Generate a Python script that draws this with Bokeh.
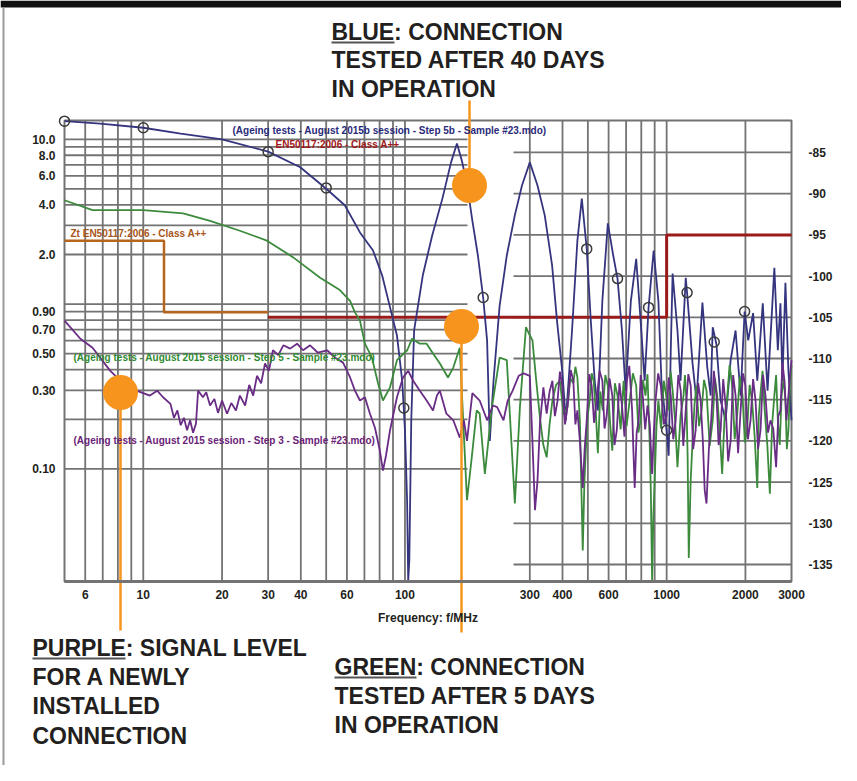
import math
from bokeh.plotting import figure
from bokeh.models import Range1d, LinearAxis, LogAxis, FixedTicker, Label, BasicTickFormatter
from bokeh.embed import file_html
from bokeh.resources import INLINE

# ---------------- data (frequency in MHz, level in dB) ----------------
blue_freq = [5.0, 6.85, 10, 13.9, 20, 30, 39.8, 50, 58.9, 67.3, 75.5, 81.8, 87.7, 93.2, 97.6, 100.0,
             101.9, 102.9, 103.9, 105.7, 108.4, 117, 127, 139, 150, 158, 165, 172.6, 181, 190, 199,
             206, 211, 218, 230, 245, 263, 280, 300, 321, 342, 365, 381, 399, 412, 435, 456, 474,
             495, 513, 531, 546, 568, 596, 625, 649, 675, 697, 730, 765, 800, 824, 853, 892, 930,
             955, 1000, 1018, 1037, 1054, 1100, 1130, 1183, 1197, 1256, 1300, 1370, 1430, 1473,
             1500, 1550, 1608, 1680, 1756, 1834, 1917, 1986, 2050, 2140, 2220, 2330, 2430, 2580,
             2660, 2722, 2770, 2844, 2920, 3000]
blue_level = [-81.2, -81.5, -82.0, -82.7, -83.4, -84.9, -86.8, -89.4, -91.4, -94.7, -96.9, -99.9,
              -103.8, -107.2, -112.7, -118.7, -127.2, -137.0, -134.5, -117.5, -106.6, -99.9, -95.1,
              -90.6, -86.2, -83.9, -86.0, -88.8, -93.3, -97.5, -102.6, -107.8, -120.0, -112.7,
              -103.6, -97.5, -92.6, -89.0, -86.2, -89.0, -92.6, -98.7, -105.4, -111.5, -117.5,
              -106.6, -95.7, -90.6, -96.7, -105.4, -112.7, -116.3, -103.0, -93.6, -97.5, -100.3,
              -106.6, -113.9, -103.0, -97.9, -106.6, -112.7, -103.8, -96.9, -103.0, -112.7, -118.7,
              -121.8, -109.0, -99.7, -106.6, -112.7, -100.2, -102.0, -110.6, -115.1, -103.2, -111.1,
              -114.5, -106.2, -108.3, -115.1, -117.5, -110.2, -106.6, -114.5, -104.3, -107.8,
              -104.5, -112.7, -103.3, -113.9, -99.0, -109.0, -103.3, -112.7, -100.8, -111.5, -117.5]
blue_mark_freq = [5.0, 10, 30, 50, 99, 199, 495, 649, 853, 1000, 1197, 1520, 1986]
blue_mark_level = [-81.2, -82.0, -84.9, -89.3, -116.0, -102.6, -96.7, -100.3, -103.8, -118.7,
                   -102.0, -108.0, -104.3]

green_freq = [5.0, 6.4, 10, 14.2, 18.0, 23.4, 29.7, 37.3, 47.4, 56.4, 61.7, 64.4, 67.3, 70.3, 74.8,
              78.9, 82.4, 87.7, 93.2, 102, 106.5, 114, 121, 128, 136, 146, 153, 162, 166, 172.6,
              180, 188, 193, 202, 215, 230, 245, 263, 275,
              290, 298, 307, 317, 328, 338, 348, 357, 366, 378, 391, 404, 418, 428, 440, 448, 456,
              466, 478, 485, 491, 499, 508, 517, 526, 536, 546, 558, 570, 583, 596, 608, 620, 634,
              649, 667, 685, 703, 722, 743, 765, 780, 795, 812, 830, 845, 861, 870, 880, 890, 900,
              915, 930, 952, 975, 996, 1018, 1036, 1054, 1077, 1100, 1130, 1160, 1175, 1190, 1203,
              1215, 1235, 1256, 1278, 1300, 1330, 1360, 1390, 1420, 1460, 1500, 1530, 1560, 1595,
              1630, 1665, 1700, 1740, 1780, 1820, 1860, 1905, 1950, 1990, 2030, 2075, 2120, 2170,
              2220, 2250, 2280, 2325, 2370, 2425, 2480, 2530, 2580, 2620, 2660, 2705, 2750, 2800,
              2844, 2880, 2920, 2960, 3000]
green_level = [-90.8, -92.0, -92.0, -92.4, -93.3, -94.5, -95.7, -97.7, -100.2, -101.7, -103.0,
               -104.4, -105.4, -108.2, -109.9, -113.0, -115.1, -113.5, -110.2, -109.0, -107.6,
               -108.2, -108.2, -109.4, -110.6, -112.3, -111.1, -108.7, -115.9, -127.2, -122.0,
               -116.3, -116.7, -124.0, -115.9, -109.9, -110.2, -127.6, -115.9,
               -106.2, -107.0, -107.8, -112.5, -117.2, -120.5, -122.0, -118.0, -115.1, -113.2,
               -112.7, -116.8, -115.9, -112.4, -113.0, -111.0, -112.3, -117.5, -133.3, -125.0,
               -121.2, -117.0, -115.1, -111.8, -112.7, -116.5, -121.5, -114.0, -116.3, -112.0,
               -113.3, -117.8, -121.2, -113.0, -114.5, -118.6, -112.7, -118.2, -115.1, -111.8,
               -113.3, -119.0, -117.5, -112.6, -114.5, -111.9, -120.0, -126.0, -137.0, -129.0,
               -124.8, -118.0, -115.1, -118.5, -112.7, -114.5, -116.3, -111.6, -113.9, -117.5,
               -123.2, -117.0, -114.5, -112.0, -115.1, -122.0, -134.2, -125.0, -120.0, -115.6,
               -113.3, -118.2, -116.3, -112.6, -113.9, -120.6, -117.5, -112.4, -114.5, -118.8,
               -124.0, -117.0, -115.1, -110.8, -113.3, -119.8, -116.9, -112.2, -114.5, -120.2,
               -118.7, -113.2, -115.1, -119.5, -125.7, -117.0, -114.5, -111.5, -116.3, -120.5,
               -126.4, -118.0, -114.5, -112.0, -117.5, -120.5, -114.5, -112.4, -115.1, -121.0,
               -118.7, -113.0, -110.8]

purple_freq = [5.0, 5.75, 6.4, 7.48, 8.7, 10, 10.6, 11.3, 11.9, 12.7, 13.1, 13.5, 13.9, 14.3, 14.7,
               15.1, 15.5, 15.9, 16.2, 16.9, 17.4, 18.0, 18.7, 19.3, 20, 20.9, 21.7, 22.6, 23.4,
               24.5, 25.4, 26.3, 27.2, 28.2, 29.2, 30.2, 31.3, 32.8, 34.3, 36.4, 38.7, 40.8, 43.4,
               46.5, 50.4, 54.1, 58, 61.7, 64.4, 67.3, 70.3, 73.5, 76.8, 80.2, 82.4, 84.6, 87.7,
               93.2, 98.3, 102.9, 107.5, 114, 121, 128, 132.5, 136, 144, 153, 162, 168, 172.6, 181,
               193, 206, 217, 225, 238, 247, 258, 272, 284,
               300, 307, 314, 321, 328, 338, 348, 357, 366, 374, 383, 391, 399, 409, 419, 430, 440,
               448, 456, 466, 478, 486, 495, 506, 517, 528, 540, 554, 568, 579, 590, 605, 620, 632,
               645, 660, 675, 690, 705, 720, 738, 746, 755, 768, 782, 796, 810, 828, 845, 862, 880,
               893, 907, 928, 950, 975, 1000, 1018, 1037, 1060, 1083, 1108, 1132, 1158, 1183, 1210,
               1236, 1263, 1291, 1320, 1349, 1375, 1398, 1420, 1450, 1480, 1515, 1550, 1580, 1608,
               1645, 1680, 1718, 1756, 1795, 1834, 1875, 1917, 1958, 2000, 2045, 2092, 2140, 2186,
               2235, 2284, 2335, 2386, 2440, 2493, 2555, 2620, 2670, 2722, 2770, 2820, 2870, 2920,
               2960, 3000]
purple_level = [-105.4, -107.6, -108.7, -111.5, -113.5, -114.2, -114.5, -113.9, -114.7, -115.5,
                -117.2, -116.3, -118.1, -117.2, -118.7, -117.5, -119.0, -117.9, -113.9, -114.7,
                -114.1, -115.7, -114.9, -116.6, -115.1, -116.7, -115.4, -116.3, -114.5, -115.7,
                -113.2, -114.5, -112.1, -113.0, -110.6, -111.5, -109.0, -109.6, -108.4, -108.8,
                -108.2, -109.0, -108.4, -109.3, -109.0, -109.9, -110.5, -112.3, -113.9, -115.1,
                -114.7, -116.7, -118.4, -121.2, -123.6, -121.8, -118.7, -114.7, -112.3, -111.5,
                -112.7, -113.9, -115.1, -116.3, -114.5, -113.9, -116.7, -117.5, -119.6, -117.5,
                -120.0, -114.2, -115.1, -117.5, -115.7, -115.9, -117.5, -115.1, -113.9, -112.1,
                -111.8,
                -112.1, -120.0, -128.4, -124.8, -117.9, -113.5, -116.7, -114.0, -112.7, -117.0,
                -115.1, -111.6, -113.3, -118.0, -115.5, -111.4, -112.7, -118.0, -116.3, -120.0,
                -125.7, -121.0, -117.5, -111.9, -113.3, -117.8, -115.1, -111.5, -112.7, -118.5,
                -116.9, -112.4, -114.5, -120.5, -118.7, -113.0, -115.7, -119.5, -112.7, -110.9,
                -116.3, -121.0, -125.7, -119.0, -117.5, -112.0, -114.5, -118.6, -115.7, -118.0,
                -124.0, -119.0, -115.1, -111.8, -113.3, -118.0, -116.9, -112.3, -114.5, -119.8,
                -117.5, -112.0, -113.9, -120.6, -116.3, -111.9, -113.3, -121.0, -118.7, -113.0,
                -115.1, -120.0, -126.0, -127.6, -121.0, -117.5, -111.5, -114.5, -120.5, -118.7,
                -112.5, -115.7, -122.5, -120.0, -112.0, -114.5, -121.5, -116.3, -111.8, -113.3,
                -119.8, -117.5, -112.5, -115.1, -121.0, -118.7, -112.0, -114.5, -119.0, -117.5,
                -118.5, -123.2, -117.0, -116.3, -110.5, -112.7, -117.5, -114.5, -112.0, -110.2]

limit_zt_freq = [5, 12, 12, 30]
limit_zt_level = [-95.7, -95.7, -104.4, -104.4]
limit_en_freq = [30, 1000, 1000, 3000]
limit_en_level = [-105.0, -105.0, -95.0, -95.0]

x_ticks = [6, 10, 20, 30, 40, 60, 100, 300, 400, 600, 1000, 2000, 3000]
x_tick_labels = ["6", "10", "20", "30", "40", "60", "100", "300", "400", "600", "1000", "2000", "3000"]
x_grid = [6, 7, 8, 9, 10, 20, 30, 40, 50, 60, 70, 80, 90, 100, 300, 400, 500, 600, 700, 800, 900,
          1000, 2000]
right_ticks = [-85, -90, -95, -100, -105, -110, -115, -120, -125, -130, -135]
right_labels = ["-85", "-90", "-95", "-100", "-105", "-110", "-115", "-120", "-125", "-130", "-135"]
left_values = [10.0, 8.0, 6.0, 4.0, 2.0, 0.90, 0.70, 0.50, 0.30, 0.10]
left_labels = ["10.0", "8.0", "6.0", "4.0", "2.0", "0.90", "0.70", "0.50", "0.30", "0.10"]
left_grid_values = [10, 9, 8, 7, 6, 5, 4, 3, 2, 1, 0.9, 0.8, 0.7, 0.6, 0.5, 0.4, 0.3, 0.2, 0.1]
LEFT_REF_DB = -103.4   # right-axis level that corresponds to 1.0 on the left scale

# ---------------- layout (canvas pixels) ----------------
W, H = 841, 765
FL, FR, FT, FB = 64, 791, 120, 581          # chart area inside the canvas
X0, X1 = 5.0, 3000.0
Y0, Y1 = -137.06, -81.12
DPP = (math.log10(X1) - math.log10(X0)) / (FR - FL)
YPP = (Y1 - Y0) / (FB - FT)


def fx(px):
    return 10 ** (math.log10(X0) + (px - FL) * DPP)


def fy(py):
    return Y0 + (FB - py) * YPP


BLUE = "#35357f"
GREEN = "#3c8a3c"
PURPLE = "#6a2d86"
ORANGE = "#f7941d"
GRID = "#737373"
TXT = "#231f20"
NARROW = "'Liberation Sans Narrow', 'Liberation Sans', sans-serif"
HEAD = "Liberation Sans"

p = figure(width=W, height=H, x_axis_type="log", x_range=Range1d(fx(0), fx(W)),
           y_range=Range1d(fy(H), fy(0)), x_axis_location=None, y_axis_location=None,
           output_backend="svg", toolbar_location=None, min_border=0,
           background_fill_color="white", border_fill_color="white")
p.outline_line_color = None
p.grid.visible = False

# page frame decorations
p.quad(left=fx(0), right=fx(W), top=fy(0), bottom=fy(7), fill_color="#111111", line_color=None)
p.segment(x0=[fx(3)], x1=[fx(3)], y0=[fy(7)], y1=[fy(H)], line_color="#9a9a9a", line_width=2)

# grids
n = len(x_grid)
p.segment(x0=x_grid, x1=x_grid, y0=[Y0] * n, y1=[Y1] * n, line_color=GRID, line_width=1.8)
left_grid_db = [LEFT_REF_DB + 20 * math.log10(v) for v in left_grid_values]
p.segment(x0=[X0] * len(left_grid_db), x1=[fx(467)] * len(left_grid_db), y0=left_grid_db,
          y1=left_grid_db, line_color=GRID, line_width=1.8)
p.segment(x0=[fx(513)] * len(right_ticks), x1=[X1] * len(right_ticks), y0=right_ticks,
          y1=right_ticks, line_color=GRID, line_width=1.8)
p.quad(left=X0, right=X1, bottom=Y0, top=Y1, fill_color=None, line_color=GRID, line_width=2)

# axes (pinned to the chart box)
xa = LogAxis(fixed_location=Y0, bounds=(X0, X1), ticker=FixedTicker(ticks=x_ticks),
             formatter=BasicTickFormatter(use_scientific=False),
             major_label_overrides=dict(zip(x_ticks, x_tick_labels)))
xa.axis_line_color = GRID
xa.axis_line_width = 3
xa.major_tick_line_color = None
xa.minor_tick_line_color = None
xa.major_label_standoff = 2
xa.major_label_text_font = NARROW
xa.major_label_text_font_style = "bold"
xa.major_label_text_font_size = "12px"
xa.major_label_text_color = TXT
xa.axis_label = "Frequency: f/MHz"
xa.axis_label_text_font = NARROW
xa.axis_label_text_font_style = "bold"
xa.axis_label_text_font_size = "12px"
xa.axis_label_text_color = TXT
xa.axis_label_standoff = 9
p.add_layout(xa, "below")

left_ticks = [LEFT_REF_DB + 20 * math.log10(v) for v in left_values]
la = LinearAxis(fixed_location=X0, bounds=(Y0, Y1), ticker=FixedTicker(ticks=left_ticks),
                major_label_overrides=dict(zip(left_ticks, left_labels)))
ra = LinearAxis(fixed_location=X1, bounds=(Y0, Y1), ticker=FixedTicker(ticks=right_ticks),
                major_label_overrides=dict(zip(right_ticks, right_labels)))
for ax, so in ((la, 3), (ra, 11)):
    ax.axis_line_color = None
    ax.major_tick_line_color = None
    ax.minor_tick_line_color = None
    ax.major_label_standoff = so
    ax.major_label_text_font = NARROW
    ax.major_label_text_font_style = "bold"
    ax.major_label_text_font_size = "12px"
    ax.major_label_text_color = TXT
p.add_layout(la, "left")
p.add_layout(ra, "right")

# limit lines
p.line(limit_zt_freq, limit_zt_level, line_color="#b5651d", line_width=2.5)
p.line(limit_en_freq, limit_en_level, line_color="#9b1b1b", line_width=3)

# measurement curves
p.line(blue_freq, blue_level, line_color=BLUE, line_width=1.8)
p.line(green_freq, green_level, line_color=GREEN, line_width=1.8)
p.line(purple_freq, purple_level, line_color=PURPLE, line_width=1.8)
p.scatter(blue_mark_freq, blue_mark_level, marker="circle", size=10, fill_color=None,
          line_color="#3a3a3a", line_width=1.5)

# in-chart labels
inner = [
    (232, 130, "(Ageing tests - August 2015b session - Step 5b - Sample #23.mdo)", "#2a2a7a"),
    (275, 144, "EN50117:2006 - Class A++", "#a01818"),
    (70, 233, "Zt EN50117:2006 - Class A++", "#a8561a"),
    (73, 357, "(Ageing tests - August 2015 session - Step 5 - Sample #23.mdo)", "#2f8a2f"),
    (73, 440, "(Ageing tests - August 2015 session - Step 3 - Sample #23.mdo)", "#6a2277"),
]
for x, y, t, c in inner:
    p.add_layout(Label(x=fx(x), y=fy(y), text=t, text_color=c, text_font=NARROW,
                       text_font_size="10px", text_font_style="bold", text_baseline="middle"))

# orange call-outs: pointer lines then dots
pointers = [(469, 100, 185), (461, 326, 632), (120, 392, 630)]
p.segment(x0=[fx(a) for a, _, _ in pointers], x1=[fx(a) for a, _, _ in pointers],
          y0=[fy(b) for _, b, _ in pointers], y1=[fy(c) for _, _, c in pointers],
          line_color=ORANGE, line_width=2.5)
p.scatter([fx(a) for a, _, _ in pointers], [fy(b) if b > 300 else fy(c) for a, b, c in pointers],
          marker="circle", size=35, fill_color=ORANGE, line_color=None)

# headings with underlined colour word (y = visual centre of each capital line)
headings = [
    (331, [30, 58.5, 87], ["BLUE: CONNECTION", "TESTED AFTER 40 DAYS", "IN OPERATION"], 394),
    (32, [646, 675, 704, 734], ["PURPLE: SIGNAL LEVEL", "FOR A NEWLY", "INSTALLED", "CONNECTION"], 125),
    (334, [665, 694, 723], ["GREEN: CONNECTION", "TESTED AFTER 5 DAYS", "IN OPERATION"], 416),
]
for x, ys, lines, ux in headings:
    for y, t in zip(ys, lines):
        p.add_layout(Label(x=fx(x), y=fy(y + 1), text=t, text_color=TXT, text_font=HEAD,
                           text_font_size="23px", text_font_style="bold",
                           text_baseline="middle"))
    p.segment(x0=[fx(x)], x1=[fx(ux)], y0=[fy(ys[0] + 12)], y1=[fy(ys[0] + 12)],
              line_color="#555555", line_width=1.8)

open("out.html", "w").write(file_html(p, INLINE))
